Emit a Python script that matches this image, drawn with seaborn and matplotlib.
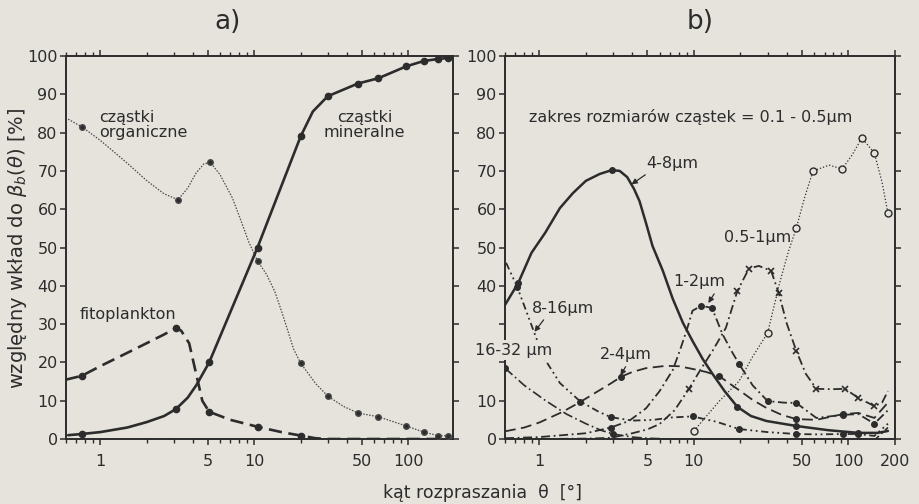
import numpy as np
import pandas as pd
import matplotlib
matplotlib.use("Agg")
import matplotlib.pyplot as plt
import seaborn as sns
from matplotlib.ticker import FixedLocator, FixedFormatter, LogLocator, NullFormatter

sns.set_theme(style="ticks")
plt.rcParams["font.family"] = ["DejaVu Sans"]

# ---------------- panel a data ----------------
min_x = [0.62, 0.76, 1.0, 1.5, 2.0, 2.6, 3.1, 3.7, 4.2, 5.1, 10.5, 20, 24, 30, 47, 64, 97, 126, 155, 180]
min_y = [1.0, 1.3, 1.8, 3.0, 4.4, 6.0, 7.8, 10.8, 14.0, 20.0, 50.0, 79.0, 85.5, 89.5, 92.8, 94.2, 97.3, 98.7, 99.2, 99.5]
min_m = [0, 1, 0, 0, 0, 0, 1, 0, 0, 1, 1, 1, 0, 1, 1, 1, 1, 1, 1, 1]

org_x = [0.62, 0.76, 1.0, 1.5, 2.0, 2.6, 3.2, 3.7, 4.2, 4.7, 5.2, 6.0, 7.2, 8.2, 9.2, 10.5, 12, 13.6, 15,
         16.6, 18, 20, 25, 30, 38, 47, 64, 97, 126, 155, 180]
org_y = [83.5, 81.5, 78.0, 72.0, 67.5, 64.0, 62.5, 65.5, 69.5, 71.8, 72.2, 69.0, 63.0, 57.0, 51.5, 46.5,
         43.0, 38.5, 33.5, 28.0, 23.5, 19.8, 14.5, 11.2, 8.5, 6.8, 5.8, 3.4, 1.8, 0.9, 0.8]
org_m = [0, 1, 0, 0, 0, 0, 1, 0, 0, 0, 1, 0, 0, 0, 0, 1, 0, 0, 0, 0, 0, 1, 0, 1, 0, 1, 1, 1, 1, 1, 1]

phy_x = [0.6, 0.76, 1.0, 1.5, 2.0, 2.6, 3.1, 3.35, 3.78, 4.17, 4.6, 5.1, 7.0, 10.5, 15, 20, 25, 30, 50, 100, 180]
phy_y = [15.5, 16.5, 19.0, 22.5, 25.0, 27.3, 29.0, 28.3, 25.0, 17.5, 10.0, 7.1, 5.0, 3.2, 1.8, 0.9, 0.2, 0.0, 0.0, 0.0, 0.0]
phy_m = [0, 1, 0, 0, 0, 0, 1, 0, 0, 0, 0, 1, 0, 1, 0, 1, 0, 0, 0, 0, 0]

a_ticks = [1, 5, 10, 50, 100]
a_ticklabels = ["1", "5", "10", "50", "100"]

# ---------------- panel b data ----------------
b01_x = [10.0, 14.6, 19.6, 24, 30, 36, 41, 46, 52, 59, 75, 91, 105, 122, 147, 165, 180]
b01_y = [2.1, 9.9, 15.1, 21.5, 27.7, 41.0, 49.1, 55.1, 63.0, 70.0, 71.5, 70.5, 74.0, 78.6, 74.7, 67.0, 59.0]
b01_m = [1, 0, 0, 0, 1, 0, 0, 1, 0, 1, 0, 1, 0, 1, 1, 0, 1]

b05_x = [0.6, 1.0, 2.0, 2.9, 4.0, 5.0, 6.0, 7.5, 9.3, 11.0, 13.2, 16.1, 19.1, 22.7, 26.3, 31.6, 35.4,
         40.0, 46.0, 53.0, 62.0, 78.0, 95.0, 116.0, 147.0, 165.0, 180.0]
b05_y = [0.0, 0.0, 0.1, 0.3, 1.5, 2.5, 3.9, 7.5, 13.1, 18.0, 23.0, 29.0, 38.6, 44.5, 45.2, 43.9, 38.1,
         30.0, 23.0, 17.0, 13.1, 13.0, 13.1, 10.7, 8.6, 9.5, 12.5]
b05_m = [0, 0, 0, 0, 0, 0, 0, 0, 1, 0, 0, 0, 1, 1, 0, 1, 1, 0, 1, 0, 1, 0, 1, 1, 1, 0, 0]

b12_x = [0.6, 1.0, 2.0, 2.9, 3.8, 4.9, 6.0, 7.3, 8.1, 9.0, 9.8, 11.2, 13.1, 15.3, 17.5, 19.6, 24.0,
         30.0, 38.0, 46.0, 62.0, 92.0, 116.0, 147.0, 180.0]
b12_y = [0.2, 0.5, 1.5, 3.0, 4.7, 8.0, 12.5, 18.0, 23.0, 28.5, 33.5, 34.8, 34.2, 27.4, 23.0, 19.6, 14.0,
         9.9, 9.5, 9.4, 5.5, 6.3, 6.5, 4.0, 7.5]
b12_m = [0, 0, 0, 1, 0, 0, 0, 0, 0, 0, 0, 1, 1, 0, 0, 1, 0, 1, 0, 1, 0, 1, 0, 1, 0]

b24_x = [0.6, 0.8, 1.0, 1.4, 1.83, 2.4, 2.9, 3.4, 4.0, 4.9, 6.6, 8.0, 9.8, 12.0, 14.6, 17.0, 20.0,
         24.0, 29.5, 37.0, 46.0, 62.0, 92.0, 116.0, 147.0, 180.0]
b24_y = [2.0, 3.0, 4.3, 7.0, 9.6, 12.5, 14.5, 16.3, 17.5, 18.5, 19.1, 19.0, 18.3, 17.5, 16.4, 14.5, 12.5,
         10.2, 8.1, 6.3, 5.2, 5.0, 6.5, 6.8, 5.5, 9.5]
b24_m = [0, 0, 0, 0, 1, 0, 0, 1, 0, 0, 0, 0, 0, 0, 1, 0, 0, 0, 0, 0, 1, 0, 1, 0, 0, 0]

b48_x = [0.6, 0.73, 0.89, 1.09, 1.36, 1.65, 2.0, 2.46, 2.94, 3.31, 3.7, 4.1, 4.45, 4.9, 5.4, 6.3, 7.3,
         8.5, 9.8, 11.4, 13.2, 15.8, 19.1, 23.4, 29.5, 46.0, 74.0, 116.0, 155.0, 180.0]
b48_y = [35.0, 40.7, 48.6, 53.8, 60.3, 64.2, 67.4, 69.2, 70.2, 70.0, 68.4, 65.3, 62.1, 56.4, 50.4, 43.9,
         36.6, 30.3, 25.6, 20.9, 17.0, 12.5, 8.4, 6.0, 4.7, 3.4, 2.3, 1.6, 1.6, 2.1]
b48_m = [0, 1, 0, 0, 0, 0, 0, 0, 1, 0, 0, 0, 0, 0, 0, 0, 0, 0, 0, 0, 0, 0, 1, 0, 0, 1, 0, 1, 0, 0]

b816_x = [0.61, 0.72, 0.87, 1.06, 1.36, 1.83, 2.4, 2.9, 4.0, 5.5, 7.0, 9.8, 14.0, 19.6, 30.0, 46.0,
          62.0, 92.0, 116.0, 147.0, 180.0]
b816_y = [46.0, 39.7, 30.8, 21.5, 14.6, 9.9, 7.2, 5.7, 4.8, 5.0, 5.6, 5.9, 4.5, 2.6, 1.8, 1.3, 1.2,
          1.3, 1.3, 0.8, 4.0]
b816_m = [0, 1, 0, 0, 0, 0, 0, 1, 0, 0, 0, 1, 0, 1, 0, 1, 0, 1, 1, 0, 0]

b1632_x = [0.6, 0.8, 1.1, 1.5, 2.0, 2.5, 3.0, 4.0, 5.0, 7.0, 10.0, 20.0, 50.0, 100.0, 150.0, 180.0]
b1632_y = [18.5, 14.0, 10.0, 6.5, 4.0, 2.3, 1.3, 0.5, 0.2, 0.0, 0.0, 0.0, 0.0, 0.0, 0.0, 3.0]
b1632_m = [1, 0, 0, 0, 0, 0, 1, 0, 0, 0, 0, 0, 0, 0, 0, 0]

b_ticks = [1, 5, 10, 50, 100, 200]
b_ticklabels = ["1", "5", "10", "50", "100", "200"]
y_ticks = list(range(0, 101, 10))
a_yticklabels = [str(v) for v in y_ticks]
b_yticklabels = ["0", "10", "", "", "40", "50", "60", "70", "80", "90", "100"]

# ---------------- drawing ----------------
INK = "#2c2c2c"
BG = "#e5e3dc"

fig = plt.figure(figsize=(9.2, 5.04), dpi=100, facecolor=BG)
axA = fig.add_axes([66 / 920, 1 - 439 / 504, 387 / 920, 383 / 504])
axB = fig.add_axes([505 / 920, 1 - 439 / 504, 390 / 920, 383 / 504])


def series(ax, x, y, m, ls, lw, marker="o", ms=4.0, mfc=INK, color=INK, mew=1.0, z=3):
    df = pd.DataFrame({"x": x, "y": y})
    idx = [i for i, f in enumerate(m) if f]
    sns.lineplot(data=df, x="x", y="y", ax=ax, sort=False, estimator=None,
                 color=color, linewidth=lw, linestyle=ls, marker=marker,
                 markevery=idx, markersize=ms, markerfacecolor=mfc,
                 markeredgecolor=color, markeredgewidth=mew, zorder=z)


def style(ax, xlim, ticks, labels, ylabels):
    ax.set_xscale("log")
    ax.set_xlim(*xlim)
    ax.set_ylim(0, 100)
    ax.set_facecolor(BG)
    ax.grid(False)
    ax.xaxis.set_major_locator(FixedLocator(ticks))
    ax.xaxis.set_major_formatter(FixedFormatter(labels))
    ax.xaxis.set_minor_locator(LogLocator(base=10, subs=np.arange(2, 10) * 1.0, numticks=30))
    ax.xaxis.set_minor_formatter(NullFormatter())
    ax.yaxis.set_major_locator(FixedLocator(y_ticks))
    ax.yaxis.set_major_formatter(FixedFormatter(ylabels))
    ax.tick_params(which="both", direction="out", top=True, right=True, bottom=True, left=True,
                   labeltop=False, labelright=False, color=INK, labelcolor=INK)
    ax.tick_params(which="major", length=4.5, width=1.1, labelsize=11.5)
    ax.tick_params(which="minor", length=3, width=1.0)
    ax.tick_params(axis="x", which="major", pad=6)
    ax.tick_params(axis="y", which="major", pad=1.5)
    ax.tick_params(axis="y", which="minor", left=False, right=False)
    for s in ax.spines.values():
        s.set_visible(True)
        s.set_color(INK)
        s.set_linewidth(1.4)
    ax.set_xlabel("")
    ax.set_ylabel("")


# panel a
series(axA, org_x, org_y, org_m, (0, (1.2, 1.2)), 0.9, ms=4.0, color="#4a4a4a")
series(axA, phy_x, phy_y, phy_m, (0, (5, 2.5)), 1.9, ms=4.5)
series(axA, min_x, min_y, min_m, "-", 1.9, ms=4.5)
style(axA, (0.6, 195), a_ticks, a_ticklabels, a_yticklabels)

tkw = dict(color=INK, fontsize=11.5)
axA.text(0.98, 82, "cząstki\norganiczne", ha="left", va="center", linespacing=1.0, **tkw)
axA.text(52, 82, "cząstki\nmineralne", ha="center", va="center", linespacing=1.0, **tkw)
axA.text(0.74, 32.5, "fitoplankton", ha="left", va="center", **tkw)

# panel b
series(axB, b01_x, b01_y, b01_m, (0, (1.0, 1.6)), 0.9, ms=5.0, mfc=BG)
series(axB, b05_x, b05_y, b05_m, (0, (5, 2, 1, 2)), 1.3, marker="x", ms=5.0, mew=1.2)
series(axB, b12_x, b12_y, b12_m, (0, (5, 2, 1, 2)), 1.3, ms=4.0)
series(axB, b24_x, b24_y, b24_m, (0, (6, 3)), 1.3, ms=4.0)
series(axB, b48_x, b48_y, b48_m, "-", 1.8, ms=4.0)
series(axB, b816_x, b816_y, b816_m, (0, (4, 2, 1, 2, 1, 2)), 1.3, ms=4.0)
series(axB, b1632_x, b1632_y, b1632_m, (0, (6, 2, 1, 2)), 1.2, ms=4.0)
style(axB, (0.6, 200), b_ticks, b_ticklabels, b_yticklabels)

akw = dict(arrowstyle="-|>", color=INK, lw=0.9, mutation_scale=8, shrinkA=1, shrinkB=0)
axB.text(0.86, 84, "zakres rozmiarów cząstek = 0.1 - 0.5µm", ha="left", va="center", **tkw)
axB.annotate("4-8µm", xy=(3.95, 66.5), xytext=(4.9, 72), ha="left", va="center",
             arrowprops=dict(relpos=(0.1, 0.0), **akw), **tkw)
axB.text(15.6, 52.7, "0.5-1µm", ha="left", va="center", **tkw)
axB.annotate("1-2µm", xy=(12.4, 35.5), xytext=(7.3, 41.0), ha="left", va="center",
             arrowprops=dict(relpos=(0.85, 0.0), **akw), **tkw)
axB.annotate("8-16µm", xy=(0.93, 28.0), xytext=(0.89, 34.2), ha="left", va="center",
             arrowprops=dict(relpos=(0.25, 0.0), **akw), **tkw)
axB.annotate("2-4µm", xy=(3.35, 16.6), xytext=(2.46, 22.0), ha="left", va="center",
             arrowprops=dict(relpos=(0.55, 0.0), **akw), **tkw)
axB.text(0.385, 23.2, "16-32 µm", ha="left", va="center", clip_on=False, zorder=5,
         bbox=dict(boxstyle="square,pad=0.15", fc=BG, ec="none"), **tkw)

# titles and axis labels
fig.text(228 / 920, 1 - 22 / 504, "a)", ha="center", va="center", fontsize=19, color=INK)
fig.text(700 / 920, 1 - 22 / 504, "b)", ha="center", va="center", fontsize=19, color=INK)
fig.text(18 / 920, 1 - 248 / 504, r"względny wkład do $\beta_b(\theta)$ [%]", rotation=90,
         ha="center", va="center", fontsize=14, color=INK)
fig.text(483 / 920, 1 - 493 / 504, "kąt rozpraszania  θ  [°]", ha="center", va="center",
         fontsize=12.5, color=INK)

fig.savefig("out.png", dpi=100, facecolor=BG)
